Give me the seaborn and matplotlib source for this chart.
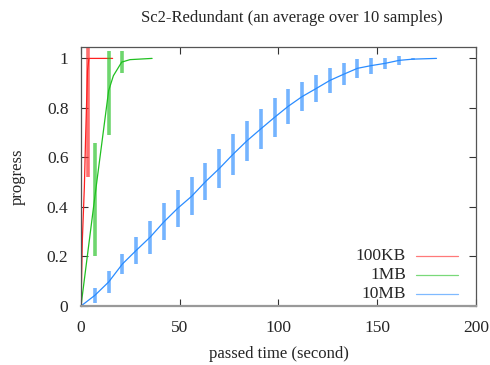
import matplotlib
matplotlib.use("Agg")
import matplotlib.pyplot as plt
import seaborn as sns
import pandas as pd
from matplotlib.ticker import FuncFormatter

# data
kb100_t = [0, 0.7, 1.7, 2.3, 3.3, 4.0, 16]
kb100_p = [0, 0.27, 0.48, 0.67, 0.95, 1.0, 1.0]
kb100_bar_t = [3.3]
kb100_bar_p = [0.88]
kb100_bar_err = [0.36]

mb1_t = [0, 7, 14, 16.4, 20.6, 24.8, 36]
mb1_p = [0, 0.44, 0.87, 0.93, 0.985, 0.995, 1.0]
mb1_bar_t = [7, 14, 21]
mb1_bar_p = [0.43, 0.86, 0.985]
mb1_bar_err = [0.23, 0.17, 0.045]

mb10_bar_t = [7, 14, 21, 28, 35, 42, 49, 56, 63, 70, 77, 84,
              91, 98, 105, 112, 119, 126, 133, 140, 147, 154, 161, 168]
mb10_bar_p = [0.043, 0.097, 0.17, 0.225, 0.278, 0.34, 0.395, 0.443,
              0.502, 0.555, 0.613, 0.667, 0.715, 0.762, 0.807, 0.846,
              0.878, 0.911, 0.936, 0.96, 0.971, 0.98, 0.992, 0.997]
mb10_bar_err = [0.029, 0.043, 0.04, 0.055, 0.067, 0.075, 0.075, 0.077,
                0.074, 0.078, 0.082, 0.081, 0.08, 0.08, 0.071, 0.057,
                0.056, 0.052, 0.045, 0.038, 0.032, 0.023, 0.018, 0.004]
mb10_t = [0] + mb10_bar_t + [180]
mb10_p = [0] + mb10_bar_p + [1.0]

labels = ["100KB", "1MB", "10MB"]
colors = ["#ff2020", "#20c020", "#2a8cff"]

sns.set_theme(style="ticks")
plt.rcParams['font.family'] = ['Liberation Serif', 'DejaVu Serif']

fig = plt.figure(figsize=(4.9, 3.65), dpi=100)
ax = fig.add_axes([0.1653, 0.1616, 0.8061, 0.7096])

series = [
    (kb100_t, kb100_p, kb100_bar_t, kb100_bar_p, kb100_bar_err),
    (mb1_t, mb1_p, mb1_bar_t, mb1_bar_p, mb1_bar_err),
    (mb10_t, mb10_p, mb10_bar_t, mb10_bar_p, mb10_bar_err),
]

for (t, p, bt, bp, be), lab, col in zip(series, labels, colors):
    df = pd.DataFrame({'t': t, 'p': p})
    sns.lineplot(data=df, x='t', y='p', color=col, linewidth=0.9,
                 ax=ax, legend=False)
    ax.errorbar(bt, bp, yerr=be, fmt='none', ecolor=col, elinewidth=2.6,
                alpha=0.65, capsize=0)

ax.set_xlim(0, 200)
ax.set_ylim(0, 1.046)
ax.set_xticks([0, 50, 100, 150, 200])
ax.set_yticks([0, 0.2, 0.4, 0.6, 0.8, 1.0])
ax.yaxis.set_major_formatter(FuncFormatter(lambda v, _: f"{v:g}"))
ax.tick_params(direction='in', length=5, width=0.8, top=True, right=True,
               labelsize=12.5, color='#333333')
ax.tick_params(axis='x', pad=10)
ax.tick_params(axis='y', pad=9)
for s in ax.spines.values():
    s.set_color('#555555')
    s.set_linewidth(0.9)
ax.spines['bottom'].set_color('#999999')
ax.spines['bottom'].set_linewidth(1.6)

ax.set_xlabel("passed time (second)", fontsize=12, labelpad=7)
ax.set_ylabel("progress", fontsize=12, labelpad=15)
fig.text(0.596, 0.95, "Sc2-Redundant (an average over 10 samples)",
         ha='center', va='center', fontsize=12)

# gnuplot style key: right aligned text, sample line on the right
rows = [0.193, 0.12, 0.046]
for lab, col, yy in zip(labels, colors, rows):
    ax.text(0.823, yy, lab, ha='right', va='center', fontsize=12.5,
            transform=ax.transAxes)
    ax.plot([0.848, 0.954], [yy, yy], color=col, linewidth=0.9, alpha=0.6,
            transform=ax.transAxes)

plt.savefig("out.png", dpi=100)
